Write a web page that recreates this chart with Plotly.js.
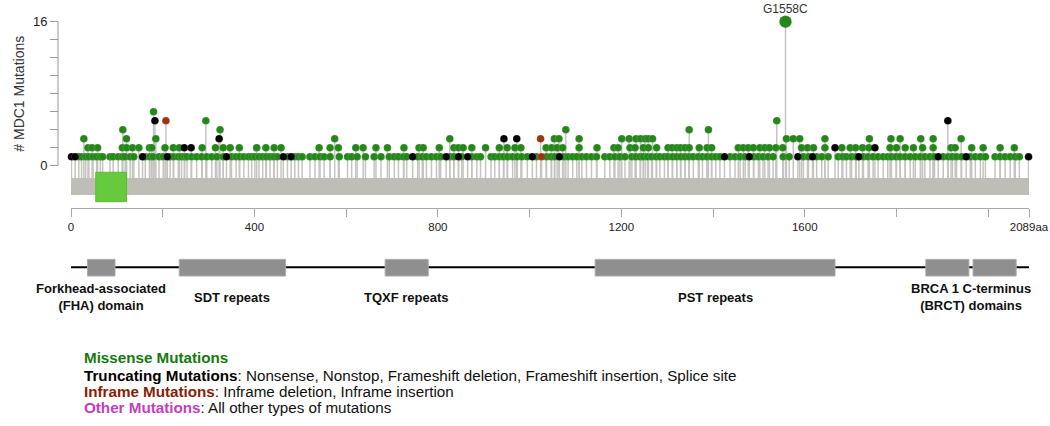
<!DOCTYPE html>
<html><head><meta charset="utf-8">
<script src="https://cdn.plot.ly/plotly-3.0.1.min.js"></script>
<style>html,body{margin:0;padding:0;background:#fff}#chart{width:1050px;height:426px}</style>
</head><body><div id="chart"></div>
<script>
// ---------------- DATA ----------------
const proteinLength = 2089;
const geneName = 'MDC1';

// Missense mutations: residue positions grouped by number of mutations at that residue
const missense1 = [17,23,32,39,48,56,64,69,85,92,103,112,118,129,137,162,172,179,192,201,216,224,234,241,248,253,263,274,285,296,307,318,332,350,360,368,377,387,394,401,410,418,426,434,442,450,472,488,496,504,521,532,543,552,565,585,603,612,624,642,661,676,694,705,714,725,732,756,766,775,786,797,806,826,835,852,874,885,893,916,924,934,943,952,963,973,983,995,1015,1037,1047,1055,1075,1084,1094,1103,1114,1124,1135,1146,1164,1175,1186,1197,1208,1223,1232,1241,1248,1257,1266,1276,1284,1294,1302,1312,1321,1330,1339,1348,1357,1368,1377,1387,1397,1406,1415,1437,1448,1459,1470,1489,1499,1509,1520,1531,1553,1566,1597,1608,1626,1637,1651,1673,1683,1691,1702,1712,1728,1738,1749,1760,1771,1781,1789,1799,1808,1819,1830,1841,1852,1862,1873,1883,1902,1913,1922,1931,1942,1961,1972,1983,1994,2015,2026,2037,2048,2059,2068];
const missense2 = [37,46,58,112,121,134,148,171,176,205,223,236,286,315,332,347,367,405,425,443,458,541,565,583,621,637,665,690,726,759,768,803,835,845,855,874,904,934,951,968,981,1036,1048,1060,1072,1108,1147,1184,1193,1219,1230,1248,1259,1277,1302,1311,1321,1329,1339,1348,1370,1387,1397,1455,1466,1477,1488,1502,1513,1523,1537,1552,1593,1606,1619,1644,1681,1699,1711,1726,1740,1786,1800,1819,1837,1857,1880,1919,1928,1964,1989,2026,2057];
const missense3 = [28,121,185,575,826,1054,1064,1108,1201,1217,1232,1242,1252,1259,1268,1560,1575,1589,1644,1741,1788,1808,1853,1880,1941];
const missense4 = [113,325,1079,1348,1390];
const missense5 = [294,1539];
const missense6 = [180];
const missense16 = [1558];

// Truncating mutations
const truncating1 = [1,9,156,210,339,463,480,745,818,845,865,1006,1065,1425,1479,1585,1617,1718,1891,1952,2088];
const truncating2 = [247,262,1666,1753];
const truncating3 = [323,944,972];
const truncating5 = [183,1912];

// Inframe mutations
const inframe1 = [1026];
const inframe3 = [1024];
const inframe5 = [207];

const hotspotLabel = 'G1558C';

// Highlighted region on the sequence bar
const regionStart = [54];
const regionEnd = [121];

// Protein domains
const domainStart = [36,236,685,1143,1864,1967];
const domainEnd   = [96,468,779,1666,1958,2061];
const domainGroup = [0,1,2,3,4,4];
const groupLabels = ['Forkhead-associated<br>(FHA) domain','SDT repeats','TQXF repeats','PST repeats','BRCA 1 C-terminus<br>(BRCT) domains'];

// Axis ticks
const xTickVals = [0,200,400,600,800,1000,1200,1400,1600,1800,2000,2089];
const xTickText = ['0','','400','','800','','1200','','1600','','','2089aa'];
const yTickVals = [0,2,4,6,8,10,12,14,16];
const yTickText = ['0','','','','','','','','16'];

// Legend text
const legendNames = ['Missense Mutations','Truncating Mutations','Inframe Mutations','Other Mutations'];
const legendDescs = ['',': Nonsense, Nonstop, Frameshift deletion, Frameshift insertion, Splice site',': Inframe deletion, Inframe insertion',': All other types of mutations'];

// ---------------- STYLE ----------------
const FONT = 'Liberation Sans, Arial, Helvetica, sans-serif';
const COLORS = {missense:'#25861a', truncating:'#000000', inframe:'#9a3412'};
const LEGEND_COLORS = ['#157a0c','#000000','#8a1d02','#c23ec0'];
const BAR_TOP = -1.37, BAR_BOTTOM = -3.26;
const REGION_TOP = -0.73, REGION_BOTTOM = -4.0;

const groups = [
  {type:'missense', lists:[[1,missense1],[2,missense2],[3,missense3],[4,missense4],[5,missense5],[6,missense6],[16,missense16]]},
  {type:'truncating', lists:[[1,truncating1],[2,truncating2],[3,truncating3],[5,truncating5]]},
  {type:'inframe', lists:[[1,inframe1],[3,inframe3],[5,inframe5]]}
];

const traces = [];
// stems
const sx = [], sy = [];
groups.forEach(g => g.lists.forEach(([c, arr]) => arr.forEach(p => {
  sx.push(p, p, null); sy.push(c, BAR_TOP, null);
})));
traces.push({type:'scatter', mode:'lines', x:sx, y:sy, hoverinfo:'skip',
  line:{color:'#c4c4bf', width:1.5}});

// heads
let maxCount = 0, maxPos = null;
groups.forEach(g => {
  const x = [], y = [], s = [];
  g.lists.forEach(([c, arr]) => arr.forEach(p => {
    x.push(p); y.push(c); s.push(c >= 10 ? 12.5 : 7.6);
    if (c > maxCount) { maxCount = c; maxPos = p; }
  }));
  traces.push({type:'scatter', mode:'markers', x, y, cliponaxis:false, hoverinfo:'skip',
    marker:{color:COLORS[g.type], size:s, opacity:1, line:{color:'rgba(255,255,255,0.35)', width:0.4}}});
});

// shapes
const shapes = [
  {type:'rect', xref:'x', yref:'y', x0:0, x1:proteinLength, y0:BAR_BOTTOM, y1:BAR_TOP,
   fillcolor:'#bebeb7', line:{width:0}, layer:'below'},
  {type:'line', xref:'paper', yref:'y', x0:0, x1:0, y0:yTickVals[0], y1:yTickVals[yTickVals.length-1],
   line:{color:'#9a9a9a', width:1}},
  {type:'line', xref:'x', yref:'y2', x0:0, x1:proteinLength, y0:7.63, y1:7.63,
   line:{color:'#000', width:2}}
];
regionStart.forEach((s,i) => shapes.push({type:'rect', xref:'x', yref:'y', x0:s, x1:regionEnd[i],
  y0:REGION_BOTTOM, y1:REGION_TOP, fillcolor:'#66cb3c', line:{color:'#5bbb34', width:1}, layer:'above'}));
domainStart.forEach((s,i) => shapes.push({type:'rect', xref:'x', yref:'y2', x0:s, x1:domainEnd[i],
  y0:7.21, y1:8.01, fillcolor:'#8f8f8f', line:{color:'#ababab', width:1}}));

// annotations
const annotations = [
  {xref:'x', yref:'y', x:maxPos, y:maxCount, text:hotspotLabel, showarrow:false, yanchor:'bottom', yshift:4,
   font:{family:FONT, size:12, color:'#333'}},
  {xref:'paper', yref:'y', x:-0.0499, y:8, text:'# ' + geneName + ' Mutations', textangle:-90, showarrow:false,
   font:{family:FONT, size:14, color:'#333'}}
];
groupLabels.forEach((lab, gi) => {
  let lo = Infinity, hi = -Infinity;
  domainGroup.forEach((g, i) => { if (g === gi) { lo = Math.min(lo, domainStart[i]); hi = Math.max(hi, domainEnd[i]); } });
  annotations.push({xref:'x', yref:'y2', x:(lo+hi)/2, y:6.2, text:'<b>'+lab+'</b>', showarrow:false, align:'center',
    font:{family:FONT, size:13, color:'#111'}});
});
const legendY = [3.27, 2.45, 1.68, 0.87];
legendNames.forEach((n, i) => {
  annotations.push({xref:'paper', yref:'y2', x:0.0244, xanchor:'left', y:legendY[i], showarrow:false, align:'left',
    text:'<b><span style="color:'+LEGEND_COLORS[i]+'">'+n+'</span></b>'+legendDescs[i],
    font:{family:FONT, size:15.2, color:'#111'}});
});

const layout = {
  width:1050, height:426, margin:{l:58, r:10, t:10, b:0},
  paper_bgcolor:'#fff', plot_bgcolor:'#fff', showlegend:false,
  xaxis:{domain:[13/982, 971/982], range:[0, proteinLength], anchor:'y', showline:true, linecolor:'#a8a8a8', linewidth:1,
    ticks:'outside', ticklen:8, tickcolor:'#a8a8a8', tickvals:xTickVals, ticktext:xTickText,
    tickfont:{family:FONT, size:11.5, color:'#222'}, showgrid:false, zeroline:false, fixedrange:true},
  yaxis:{domain:[218/416, 1], range:[-4.70, 17.30], anchor:'free', position:0, showline:false,
    ticks:'outside', ticklen:8, tickcolor:'#9a9a9a', tickvals:yTickVals, ticktext:yTickText,
    tickfont:{family:FONT, size:13, color:'#222'}, showgrid:false, zeroline:false, fixedrange:true},
  yaxis2:{domain:[0, 0.5], range:[0, 10], anchor:'x', visible:false, fixedrange:true},
  shapes, annotations
};

Plotly.newPlot('chart', traces, layout, {displayModeBar:false, staticPlot:true});
</script>
</body></html>
